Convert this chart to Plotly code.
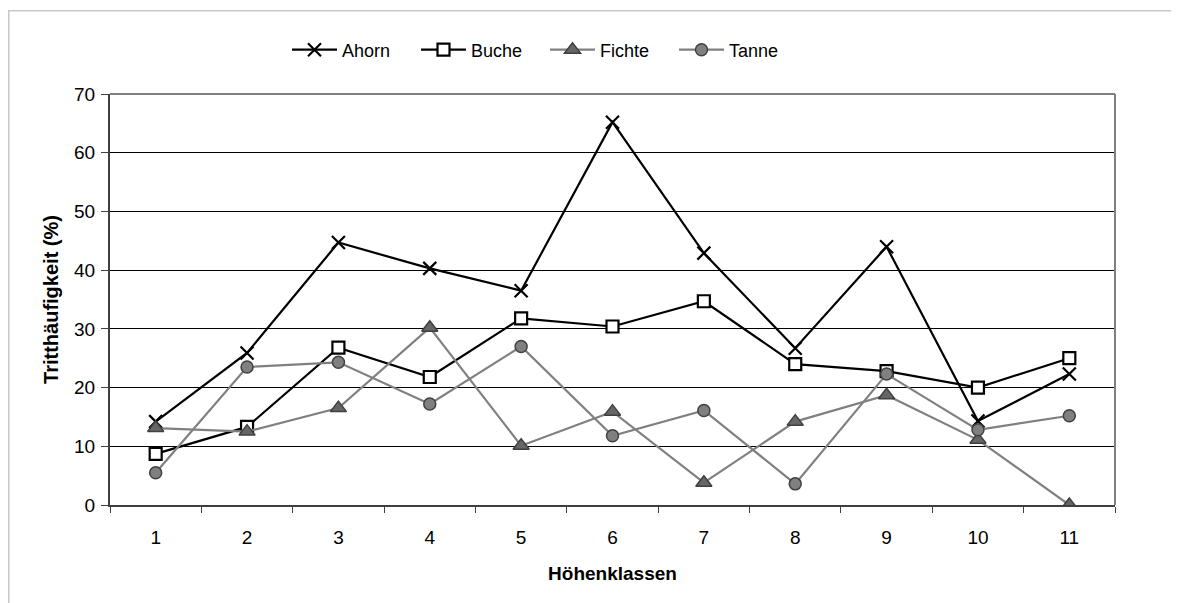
import plotly.graph_objects as go

categories = ["1", "2", "3", "4", "5", "6", "7", "8", "9", "10", "11"]
ahorn = [14.2, 25.9, 44.7, 40.3, 36.5, 65.2, 42.9, 26.7, 44.0, 14.3, 22.3]
buche = [8.7, 13.3, 26.8, 21.8, 31.8, 30.4, 34.7, 24.0, 22.8, 20.0, 25.0]
fichte = [13.1, 12.5, 16.5, 30.2, 10.1, 15.9, 3.8, 14.2, 18.7, 11.1, 0.0]
tanne = [5.5, 23.5, 24.3, 17.2, 27.0, 11.8, 16.1, 3.6, 22.3, 12.8, 15.2]
y_ticks = [0, 10, 20, 30, 40, 50, 60, 70]

FONT = "Liberation Sans, Arial, sans-serif"

# page body has an 8px margin: figure origin sits at (8, 8) in the window
L, R, T, B = 102, 72, 86, 106
PW, PH = 1179 - L - R, 603 - T - B


def px_x(x):
    return (x - 8 - L) / PW


def px_y(y):
    return (603 - B - (y - 8)) / PH


fig = go.Figure()
fig.add_trace(go.Scatter(
    x=categories, y=ahorn, name="Ahorn", mode="lines+markers",
    line=dict(color="black", width=2.2),
    marker=dict(symbol="x-thin", size=13, color="black",
                line=dict(color="black", width=2.2)),
))
fig.add_trace(go.Scatter(
    x=categories, y=buche, name="Buche", mode="lines+markers",
    line=dict(color="black", width=2.2),
    marker=dict(symbol="square", size=12, color="white",
                line=dict(color="black", width=2.2)),
))
fig.add_trace(go.Scatter(
    x=categories, y=fichte, name="Fichte", mode="lines+markers",
    line=dict(color="#808080", width=2.2),
    marker=dict(symbol="triangle-up", size=14, color="#666666",
                line=dict(color="#404040", width=1.5)),
))
fig.add_trace(go.Scatter(
    x=categories, y=tanne, name="Tanne", mode="lines+markers",
    line=dict(color="#808080", width=2.2),
    marker=dict(symbol="circle", size=12, color="#808080",
                line=dict(color="#404040", width=1.5)),
))

fig.update_layout(
    width=1179, height=603,
    margin=dict(l=L, r=R, t=T, b=B),
    paper_bgcolor="white", plot_bgcolor="white",
    font=dict(family=FONT, size=18, color="black"),
    legend=dict(orientation="h", x=px_x(545), xanchor="center", y=px_y(50),
                yanchor="middle", font=dict(size=18), bgcolor="rgba(0,0,0,0)",
                itemwidth=45, entrywidth=69, tracegroupgap=0),
    xaxis=dict(
        type="category", range=[-0.5, 10.5], tickson="boundaries",
        ticks="outside", ticklen=6, tickcolor="#404040", tickwidth=1,
        showline=True, linecolor="#404040", linewidth=2,
        showgrid=False, zeroline=False, ticklabelstandoff=14,
        title=dict(text="<b>Höhenklassen</b>", font=dict(size=19), standoff=20),
        tickfont=dict(size=19),
    ),
    yaxis=dict(
        range=[0, 70], tickvals=y_ticks,
        ticks="outside", ticklen=7, tickcolor="#404040", tickwidth=1,
        showline=True, linecolor="#404040", linewidth=2,
        showgrid=True, gridcolor="black", gridwidth=1, zeroline=False,
        ticklabelstandoff=2,
        title=dict(text="<b>Tritthäufigkeit (%)</b>", font=dict(size=20), standoff=10),
        tickfont=dict(size=19),
    ),
    shapes=[
        # plot area top and right border
        dict(type="line", xref="paper", yref="paper", x0=0, x1=1, y0=1, y1=1,
             line=dict(color="#808080", width=2), layer="above"),
        dict(type="line", xref="paper", yref="paper", x0=1, x1=1, y0=0, y1=1,
             line=dict(color="#808080", width=2), layer="above"),
        # outer chart frame
        dict(type="rect", xref="paper", yref="paper",
             x0=px_x(8.8), x1=px_x(1200), y0=px_y(640), y1=px_y(10.8),
             line=dict(color="#c8c8c8", width=1.5), layer="below"),
    ],
)

fig.write_html("out.html")
